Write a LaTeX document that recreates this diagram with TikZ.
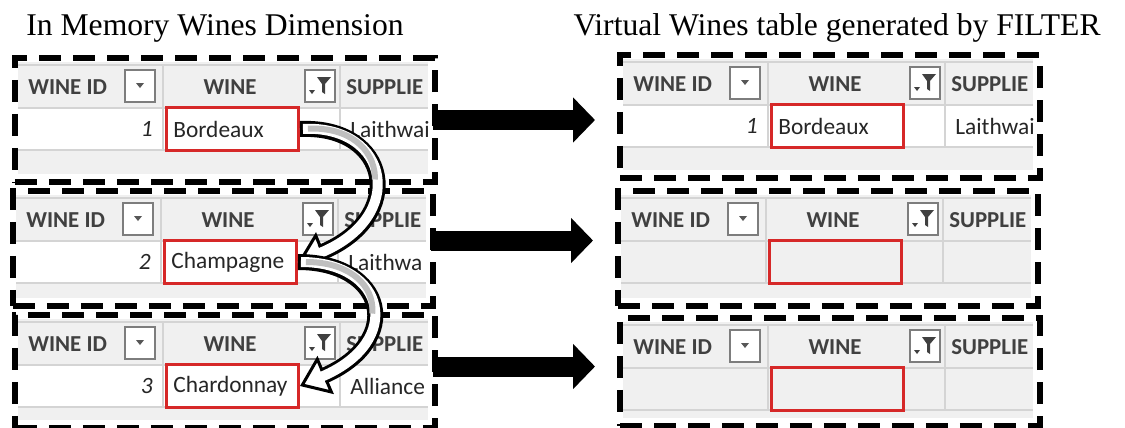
\documentclass[tikz,border=0pt]{standalone}
\usepackage{fontspec}
\setmainfont{Liberation Serif}
\newfontfamily\tablefont{Carlito}
\usetikzlibrary{arrows.meta,positioning}

\definecolor{winered}{RGB}{214,40,40}
\definecolor{tablegray}{RGB}{240,240,240}
\definecolor{gridgray}{RGB}{212,212,212}
\definecolor{headtext}{RGB}{64,64,64}
\definecolor{icongray}{RGB}{125,125,125}

\tikzset{
  title/.style={font=\fontsize{18}{20}\selectfont, inner sep=0pt},
  headtxt/.style={font=\tablefont\bfseries\fontsize{13}{15}\selectfont, text=headtext, inner sep=0pt},
  celltxt/.style={font=\tablefont\fontsize{13.3}{15}\selectfont, text=black!85, inner sep=0pt},
  panel/.style={draw=black, line width=0.12cm, dash pattern=on 0.44cm off 0.24cm,
    minimum width=8.4cm, inner sep=0pt, anchor=north west},
  winebox/.style={draw=winered, line width=0.06cm, minimum width=2.64cm,
    minimum height=0.86cm, inner sep=0pt, anchor=north west},
  iconbox/.style={draw=icongray, fill=white, line width=0.03cm},
  bigarrow/.style={line width=0.4cm, -{Triangle[length=0.44cm, width=0.88cm]}, shorten >=0.44cm},
}

% hollow curved arrow between two wine cells
\newcommand\curvyarrow[4]{%
  \draw[line width=0.04cm, white,
    -{Triangle[open, fill=white, color=black, length=0.56cm, width=0.82cm, line width=0.06cm]}]
    (#1) .. controls +#3 and +#4 .. (#2);
  \draw[line width=0.32cm, black, shorten >=0.5cm] (#1) .. controls +#3 and +#4 .. (#2);
  \draw[line width=0.2cm, white, shorten >=0.48cm, shorten <=0.06cm] (#1) .. controls +#3 and +#4 .. (#2);
  \draw[line width=0.12cm, black!25, dash pattern=on 1.9cm off 20cm, shorten <=0.16cm]
    (#1) .. controls +#3 and +#4 .. (#2);
}

\begin{document}
\begin{tikzpicture}[x=0.02cm,y=-0.02cm]
  \useasboundingbox (0,0) rectangle (1125,427);

  \node[title, anchor=base] (memtitle) at (215,35) {In Memory Wines Dimension};
  \node[title, anchor=base] (virttitle) at (837,35) {Virtual Wines table generated by FILTER};

  \foreach \n/\x/\y/\h/\id/\wine/\sup/\dfill in {
      mem1/12/55/124/1/Bordeaux/Laithwai/white,
      mem2/10/188/115/2/Champagne/Laithwa/white,
      mem3/12/312/113/3/Chardonnay/Alliance/white,
      virt1/617/52/123/1/Bordeaux/Laithwai/white,
      virt2/615/188/115///tablegray,
      virt3/617/315/108///tablegray}
  {
    \begin{scope}[shift={({\x+6},{\y+7})}]
      \clip (0,0) rectangle (410,{\h-12});
      \fill[tablegray] (0,0) rectangle (410,{\h-12});
      \fill[\dfill] (0,46) rectangle (410,88);
      \draw[gridgray, line width=0.03cm] (0,3) -- (410,3) (0,46) -- (410,46) (0,88) -- (410,88)
        (145,3) -- (145,88) (322,3) -- (322,88);
      % header row
      \node[headtxt, anchor=west] (\n-idhead) at (10,25) {WINE ID};
      \filldraw[iconbox] (107,8) rectangle (137,40);
      \fill[icongray!70!black] (118,21) -- (126,21) -- (122,26) -- cycle;
      \node[headtxt] (\n-winehead) at (212,25) {WINE};
      \filldraw[iconbox] (287,8) rectangle (317,40);
      \fill[headtext] (299,15) -- (313,15) -- (307,22) -- (307,32) -- (304,30) -- (304,22) -- cycle;
      \fill[headtext] (291,28) -- (297,28) -- (294,32) -- cycle;
      \node[headtxt, anchor=west] (\n-suphead) at (328,25) {SUPPLIE};
      % data row
      \node[winebox] (\n-wine) at (147,44) {};
      \ifx\wine\empty\else
        \node[celltxt, anchor=east, font=\tablefont\itshape\fontsize{13.3}{15}\selectfont] (\n-id) at (135,67) {\id};
        \node[celltxt, anchor=west] (\n-winetext) at (155,67) {\wine};
        \node[celltxt, anchor=west] (\n-sup) at (332,67) {\sup};
      \fi
    \end{scope}
    \node[panel, minimum height=\h*0.02cm] (\n) at (\x,\y) {};
  }

  \foreach \l/\r/\dy in {mem1/virt1/0, mem2/virt2/0.16, mem3/virt3/0.1}
  {
    \coordinate (\l-out) at ([xshift=-0.1cm, yshift=\dy cm]\l.east);
    \draw[bigarrow] (\l-out) -- (\l-out -| \r.west);
  }

  \curvyarrow{mem1-wine.east}{mem2-wine.east}{(90,-4)}{(110,-45)}
  \curvyarrow{mem2-wine.east}{mem3-wine.east}{(88,0)}{(105,-45)}
\end{tikzpicture}
\end{document}
